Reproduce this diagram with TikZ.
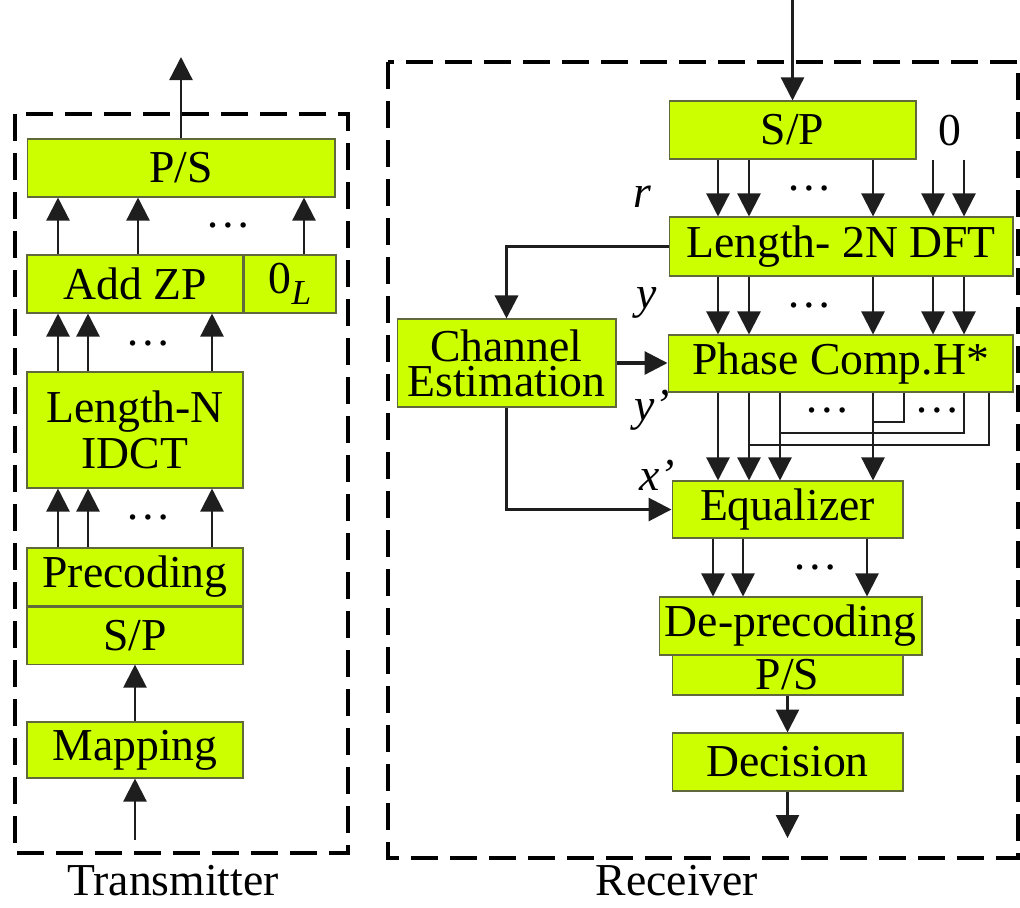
\documentclass[tikz,border=0pt]{standalone}
\usepackage{fontspec}
\setmainfont{Liberation Serif}
\usepackage{tikz}
\usetikzlibrary{arrows.meta,positioning}
\definecolor{blockfill}{RGB}{204,255,0}
\definecolor{blockedge}{RGB}{95,105,60}
\definecolor{inkgray}{RGB}{30,30,30}

\begin{document}
\begin{tikzpicture}[
  x=0.02cm, y=-0.02cm,
  every node/.style={font=\fontsize{26}{30}\selectfont},
  box/.style={draw=blockedge, line width=0.6pt, fill=blockfill,
    inner sep=2pt, minimum height=1.16cm},
  link/.style={draw=inkgray, line width=1.3pt, -{Triangle[length=0.46cm, width=0.46cm]}},
  wire/.style={draw=inkgray, line width=1.3pt},
  feed/.style={link, line width=1.8pt},
  frame/.style={line width=2.6pt, dash pattern=on 0.54cm off 0.24cm},
  sym/.style={font=\fontsize{26}{30}\selectfont\itshape}
]
\useasboundingbox (0,0) rectangle (1020,907);

% dashed frames
\draw[frame] (15,114) rectangle (348,853);
\draw[frame] (388,62) rectangle (1018,858);
\node (txlabel) at (173,881) {Transmitter};
\node (rxlabel) at (677,881) {Receiver};

% transmitter
\node[box, minimum width=6.16cm] (tps) at (181,168) {P/S};
\node[box, minimum width=4.32cm] (addzp) at (135,284) {Add ZP};
\node[box, minimum width=1.84cm, right=0pt of addzp] (zerol)
  {0\raisebox{-0.25em}{\fontsize{20}{20}\selectfont\textit{L}}};
\node[box, minimum width=4.32cm, minimum height=2.32cm, align=center,
  font=\fontsize{26}{26}\selectfont] (idct) at (135,430) {Length-N\\IDCT};
\node[box, minimum width=4.32cm] (prec) at (135,577) {Precoding};
\node[box, minimum width=4.32cm, minimum height=1.14cm, below=0pt of prec] (tsp) {S/P};
\node[box, minimum width=4.32cm, minimum height=1.12cm] (mapping) at (135,750) {Mapping};
\coordinate (txout) at (181,57);
\coordinate (txin) at (135,840);

\draw[link] (tps.north) -- (txout);
\foreach \x in {58,138,304}
  \draw[link] (\x,0 |- addzp.north) -- (\x,0 |- tps.south);
\node (txdots1) at (228,225) {\dots};
\foreach \x in {58,88,212}
  \draw[link] (\x,0 |- idct.north) -- (\x,0 |- addzp.south);
\node (txdots2) at (148,343) {\dots};
\foreach \x in {58,88,212}
  \draw[link] (\x,0 |- prec.north) -- (\x,0 |- idct.south);
\node (txdots3) at (148,517) {\dots};
\draw[link] (mapping.north) -- (tsp.south);
\draw[link] (txin) -- (mapping.south);

% receiver
\node[box, minimum width=4.94cm] (rsp) at (792.5,130) {S/P};
\node (zero) at (950,131) {0};
\node[box, minimum width=6.88cm, minimum height=1.18cm] (dft) at (841,246.5) {Length- 2N DFT};
\node[box, minimum width=4.38cm, minimum height=1.76cm, align=center,
  font=\fontsize{26}{20}\selectfont] (ce) at (506.5,363) {Channel\\Estimation};
\node[box, minimum width=6.9cm, minimum height=1.14cm] (phase) at (840.5,363.5) {Phase Comp.H*};
\node[box, minimum width=4.62cm, minimum height=1.14cm] (eq) at (787.5,509.5) {Equalizer};
\node[box, minimum width=4.62cm, minimum height=0.8cm, inner ysep=0pt] (rps) at (787.5,675) {P/S};
\node[box, minimum width=5.26cm] (deprec) at (790.5,626) {De-precoding};
\node[box, minimum width=4.62cm] (dec) at (787.5,762) {Decision};
\coordinate (rxin) at (792.5,0);
\coordinate (rxout) at (787.5,838);

\draw[link] (rxin) -- (rsp.north);
\foreach \x in {718,749,873,933,964}
  \draw[link] (\x,0 |- rsp.south) -- (\x,0 |- dft.north);
\node (rxdots1) at (809,188) {\dots};
\node[sym] (rlab) at (642,197) {r};
\foreach \x in {718,749,873,933,964}
  \draw[link] (\x,0 |- dft.south) -- (\x,0 |- phase.north);
\node (rxdots2) at (809,305) {\dots};
\node[sym] (ylab) at (647,303) {y};

\draw[feed] (dft.west) -| (ce.north);
\draw[feed] (ce.east) -- (ce.east -| phase.west);
\draw[feed] (ce.south) |- (eq.west);

\foreach \x in {718,749,780,873}
  \draw[link] (\x,0 |- phase.south) -- (\x,0 |- eq.north);
\draw[wire] (904,0 |- phase.south) |- (873,422);
\draw[wire] (964,0 |- phase.south) |- (780,433);
\draw[wire] (989,0 |- phase.south) |- (749,445);
\node (rxdots3) at (827,410) {\dots};
\node (rxdots4) at (937,410) {\dots};
\node[sym] (yplab) at (652,410) {y'};
\node[sym] (xplab) at (657,475) {x'};

\foreach \x in {713,743,867}
  \draw[link] (\x,0 |- eq.south) -- (\x,0 |- deprec.north);
\node (rxdots5) at (815,567) {\dots};
\draw[link] (rps.south) -- (dec.north);
\draw[link] (dec.south) -- (rxout);
\end{tikzpicture}
\end{document}
